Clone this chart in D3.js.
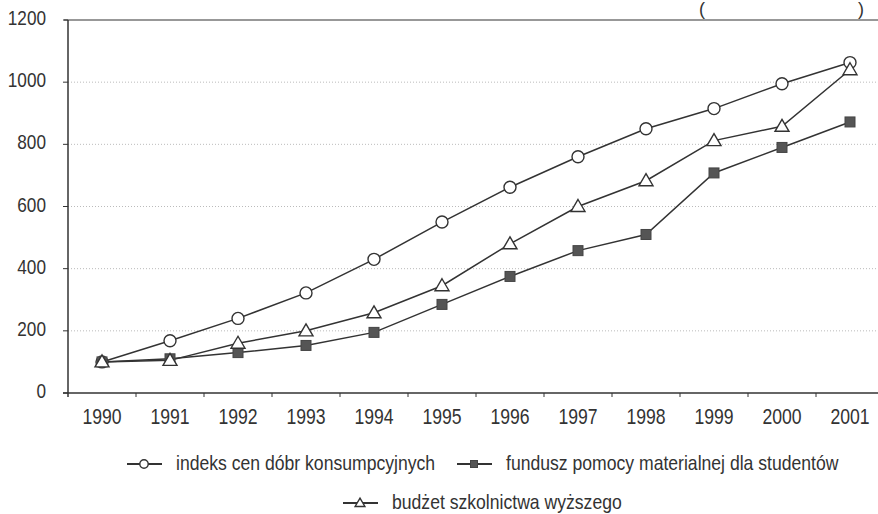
<!DOCTYPE html>
<meta charset="utf-8">
<style>
  body { margin: 0; background: #fff; }
  text { font-family: "Liberation Sans", Arial, sans-serif; fill: #333; }
</style>
<svg width="878" height="514"></svg>
<script src="https://d3js.org/d3.v7.min.js"></script>
<script>
var years = [1990, 1991, 1992, 1993, 1994, 1995, 1996, 1997, 1998, 1999, 2000, 2001]
var cpi = [100, 168, 240, 322, 430, 550, 662, 760, 850, 915, 995, 1063]
var fund = [100, 110, 130, 153, 195, 285, 375, 458, 510, 708, 790, 872]
var budget = [100, 105, 160, 200, 258, 345, 480, 600, 683, 812, 858, 1040]
var yTicks = [0, 200, 400, 600, 800, 1000, 1200]

var series = [
  { name: 'indeks cen dóbr konsumpcyjnych', values: cpi, marker: 'circle' },
  { name: 'fundusz pomocy materialnej dla studentów', values: fund, marker: 'square' },
  { name: 'budżet szkolnictwa wyższego', values: budget, marker: 'triangle' }
]

var svg = d3.select('svg')
var ink = '#333'

var x = d3.scaleBand().domain(years).range([68, 884])
var y = d3.scaleLinear().domain([0, 1200]).range([393, 20])

// no narrow font installed, so squeeze the text horizontally
function narrowText(parent, tx, ty, size, sx, str, anchor) {
  return parent.append('text')
    .attr('transform', 'translate(' + tx + ',' + ty + ') scale(' + sx + ',1)')
    .attr('font-size', size)
    .attr('text-anchor', anchor || 'start')
    .text(str)
}

// grid
svg.append('g').selectAll('line')
  .data(yTicks.filter(function (d) { return d > 0 && d < 1200 }))
  .enter().append('line')
  .attr('x1', 68).attr('x2', 878)
  .attr('y1', function (d) { return y(d) }).attr('y2', function (d) { return y(d) })
  .attr('stroke', '#aaa').attr('stroke-width', 0.8).attr('stroke-dasharray', '1,2')

// top frame line
svg.append('line').attr('x1', 64).attr('x2', 878).attr('y1', y(1200)).attr('y2', y(1200))
  .attr('stroke', ink).attr('stroke-width', 1.2)

// y axis
var yAxis = svg.append('g')
yAxis.append('line').attr('x1', 68).attr('x2', 68).attr('y1', y(1200)).attr('y2', y(0) + 4)
  .attr('stroke', ink).attr('stroke-width', 1.5)
yAxis.selectAll('line.tick').data(yTicks).enter().append('line')
  .attr('class', 'tick')
  .attr('x1', 63).attr('x2', 68)
  .attr('y1', function (d) { return y(d) }).attr('y2', function (d) { return y(d) })
  .attr('stroke', ink)
yTicks.forEach(function (d) {
  narrowText(yAxis, 46, y(d) + 5, 20, 0.86, d, 'end')
})

// x axis
var xAxis = svg.append('g').attr('transform', 'translate(0,' + y(0) + ')')
xAxis.append('line').attr('x1', 63).attr('x2', 878).attr('stroke', ink).attr('stroke-width', 1.5)
xAxis.selectAll('line.tick').data(years.slice(1)).enter().append('line')
  .attr('class', 'tick')
  .attr('x1', function (d) { return x(d) }).attr('x2', function (d) { return x(d) })
  .attr('y1', 0).attr('y2', 4).attr('stroke', ink)
years.forEach(function (d) {
  narrowText(xAxis, x(d) + x.bandwidth() / 2, 31, 22, 0.8, d, 'middle')
})

function drawMarker(g, type, cx, cy, k) {
  if (type === 'circle') {
    g.append('circle').attr('cx', cx).attr('cy', cy).attr('r', 6 * k)
      .attr('fill', '#fff').attr('stroke', ink).attr('stroke-width', 1.4)
  } else if (type === 'square') {
    g.append('rect').attr('x', cx - 5 * k).attr('y', cy - 5 * k)
      .attr('width', 10 * k).attr('height', 10 * k)
      .attr('fill', '#555').attr('stroke', '#444')
  } else {
    g.append('path')
      .attr('d', 'M' + cx + ',' + (cy - 7 * k) + 'L' + (cx + 7 * k) + ',' + (cy + 5 * k) +
        'L' + (cx - 7 * k) + ',' + (cy + 5 * k) + 'Z')
      .attr('fill', '#fff').attr('stroke', ink).attr('stroke-width', 1.4)
  }
}

var line = d3.line()
  .x(function (d, i) { return x(years[i]) + x.bandwidth() / 2 })
  .y(function (d) { return y(d) })

series.forEach(function (s) {
  svg.append('path').datum(s.values).attr('d', line)
    .attr('fill', 'none').attr('stroke', ink).attr('stroke-width', 1.5)
})
series.forEach(function (s) {
  var g = svg.append('g')
  s.values.forEach(function (v, i) {
    drawMarker(g, s.marker, x(years[i]) + x.bandwidth() / 2, y(v), 1)
  })
})

// legend
var legendRows = [
  [{ s: series[0], x: 127 }, { s: series[1], x: 457 }],
  [{ s: series[2], x: 343 }]
]
var rowY = [464, 503]
legendRows.forEach(function (row, r) {
  row.forEach(function (item) {
    var g = svg.append('g')
    g.append('line').attr('x1', item.x).attr('x2', item.x + 35)
      .attr('y1', rowY[r]).attr('y2', rowY[r]).attr('stroke', ink).attr('stroke-width', 2)
    drawMarker(g, item.s.marker, item.x + 17, rowY[r], 0.7)
    narrowText(g, item.x + 49, rowY[r] + 6, 20, 0.88, item.s.name)
  })
})

// title parentheses at the top edge (title itself is cut off in the source)
svg.append('text').attr('x', 699).attr('y', 15).attr('font-size', 18).text('(')
svg.append('text').attr('x', 858).attr('y', 15).attr('font-size', 18).text(')')
</script>
